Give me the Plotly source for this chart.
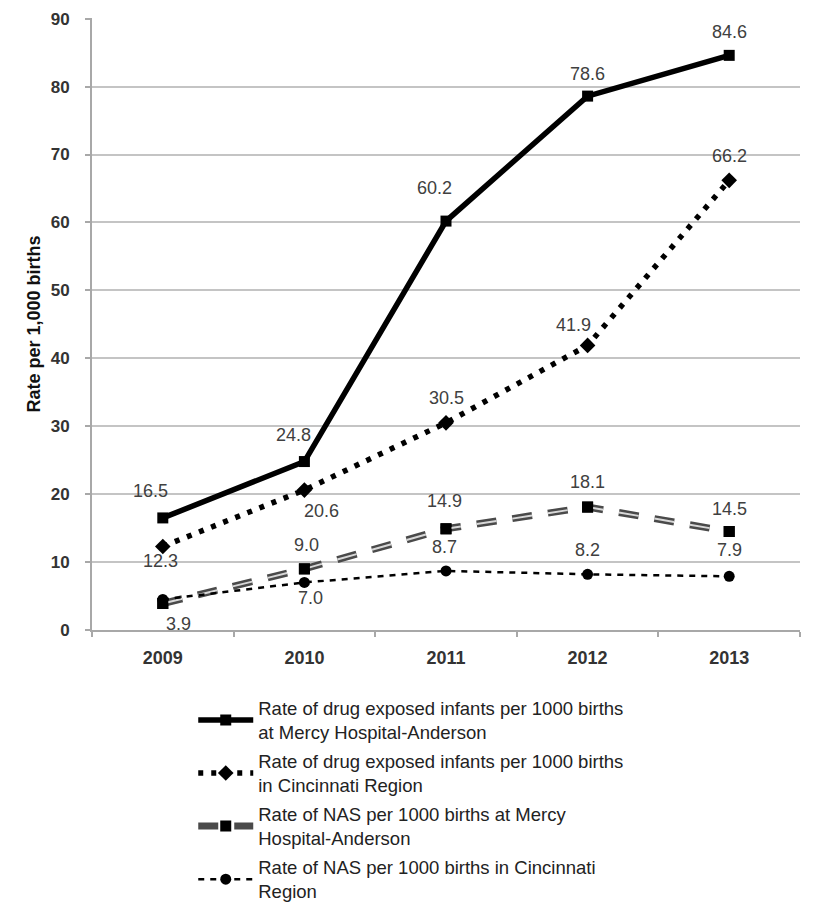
import plotly.graph_objects as go

years = ["2009", "2010", "2011", "2012", "2013"]
drug_mercy = [16.5, 24.8, 60.2, 78.6, 84.6]
drug_cinci = [12.3, 20.6, 30.5, 41.9, 66.2]
nas_mercy = [3.9, 9.0, 14.9, 18.1, 14.5]
nas_cinci = [4.5, 7.0, 8.7, 8.2, 7.9]

names = [
    "Rate of drug exposed infants per 1000 births<br>at Mercy Hospital-Anderson",
    "Rate of drug exposed infants per 1000 births<br>in Cincinnati Region",
    "Rate of NAS per 1000 births at Mercy<br>Hospital-Anderson",
    "Rate of NAS per 1000 births in Cincinnati<br>Region",
]

# label offsets (pixels) relative to each point: (dx, dy) with dy positive = up
offs_drug_mercy = [(-12, 27), (-11, 27), (-12, 33), (0, 22), (0, 23)]
offs_drug_cinci = [(-2, -15), (17, -21), (0, 25), (-14, 20), (0, 24)]
offs_nas_mercy = [(16, -20), (2, 24), (-2, 28), (0, 25), (0, 23)]
offs_nas_cinci = [None, (6, -16), (-2, 24), (0, 24), (0, 26)]

FONT = "Liberation Sans, Arial, sans-serif"
lab_font = dict(family=FONT, size=18, color="#404040")

fig = go.Figure()

fig.add_trace(go.Scatter(
    x=years, y=drug_mercy, name=names[0], mode="lines+markers",
    line=dict(color="#000000", width=5.5),
    marker=dict(symbol="square", size=11, color="#000000"),
))

fig.add_trace(go.Scatter(
    x=years, y=drug_cinci, name=names[1], mode="lines+markers",
    line=dict(color="#000000", width=5.5, dash="5px,8px"),
    marker=dict(symbol="diamond", size=12, color="#000000"),
))

fig.add_trace(go.Scatter(
    x=years, y=nas_mercy, name=names[2], mode="lines+markers",
    line=dict(color="#4a4a4a", width=7, dash="20px,16px"),
    marker=dict(symbol="square", size=11, color="#000000"),
    legendgroup="nasm",
))
fig.add_trace(go.Scatter(
    x=years, y=nas_mercy, mode="lines", showlegend=False, hoverinfo="skip",
    line=dict(color="#d8d8d8", width=2, dash="20px,16px"),
    legendgroup="nasm",
))

fig.add_trace(go.Scatter(
    x=years, y=nas_cinci, name=names[3], mode="lines+markers",
    line=dict(color="#000000", width=2.5, dash="6px,6px"),
    marker=dict(symbol="circle", size=11, color="#000000"),
))

# Mercy NAS markers on top of the inner light line
fig.add_trace(go.Scatter(
    x=years, y=nas_mercy, mode="markers", showlegend=False, hoverinfo="skip",
    marker=dict(symbol="square", size=11, color="#000000"),
))

for vals, offs in [(drug_mercy, offs_drug_mercy), (drug_cinci, offs_drug_cinci),
                   (nas_mercy, offs_nas_mercy), (nas_cinci, offs_nas_cinci)]:
    for i, (v, o) in enumerate(zip(vals, offs)):
        if o is None:
            continue
        fig.add_annotation(
            x=i, y=v, text=f"{v:.1f}", showarrow=False,
            xshift=o[0], yshift=o[1], font=lab_font,
        )

fig.update_layout(
    width=813, height=908,
    margin=dict(l=84, r=21, t=10, b=286, autoexpand=False),
    paper_bgcolor="white", plot_bgcolor="white",
    font=dict(family=FONT, size=18, color="#333333"),
    legend=dict(
        x=0.143, y=-0.097, xanchor="left", yanchor="top",
        font=dict(size=18.5, color="#222222"),
        itemwidth=55, tracegroupgap=2,
        bgcolor="rgba(0,0,0,0)",
    ),
    showlegend=True,
)

fig.update_xaxes(
    type="category", tickson="boundaries",
    range=[-0.5, len(years) - 0.5],
    showline=True, linecolor="#a8a8a8", linewidth=2,
    ticks="outside", ticklen=5, tickcolor="#a8a8a8", tickwidth=2,
    showgrid=False, automargin=False, tickangle=0,
    tickfont=dict(family=FONT, size=18, color="#333333", weight="bold"),
    ticklabelstandoff=10,
)
fig.update_yaxes(
    range=[0, 90.1], tick0=0, dtick=10,
    showline=True, linecolor="#a8a8a8", linewidth=2,
    ticks="outside", ticklen=5, tickcolor="#a8a8a8", tickwidth=2,
    showgrid=True, gridcolor="#c4c4c4", gridwidth=2,
    zeroline=False, automargin=False, ticklabeloverflow="allow",
    tickfont=dict(family=FONT, size=17, color="#333333", weight="bold"),
    ticklabelstandoff=12,
    title=dict(text="<b>Rate per 1,000 births</b>", font=dict(family=FONT, size=18, color="#111111"), standoff=5),
)

fig.write_html("out.html")
